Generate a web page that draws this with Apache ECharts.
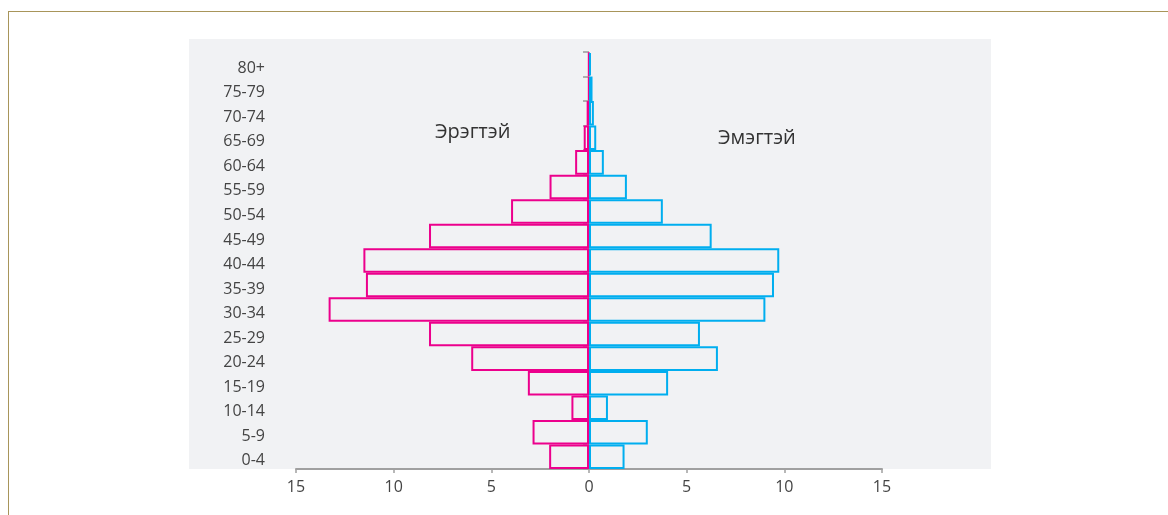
<!DOCTYPE html>
<html>
<head>
<meta charset="utf-8">
<script src="https://cdn.jsdelivr.net/npm/echarts@6/dist/echarts.min.js"></script>
<style>
html,body{margin:0;padding:0;background:#fff;}
#chart{width:1168px;height:515px;}
</style>
</head>
<body>
<div id="chart"></div>
<script>
const categories = ['0-4','5-9','10-14','15-19','20-24','25-29','30-34','35-39','40-44','45-49','50-54','55-59','60-64','65-69','70-74','75-79','80+'];
const maleValues = [2.04, 2.89, 0.9, 3.13, 6.03, 8.19, 13.33, 11.42, 11.55, 8.19, 3.99, 2.02, 0.71, 0.27, 0.12, 0.02, 0.02];
const femaleValues = [1.82, 3.01, 0.97, 4.05, 6.6, 5.68, 9.03, 9.47, 9.74, 6.28, 3.78, 1.94, 0.76, 0.37, 0.25, 0.18, 0.1];
const xTicks = { min: -15, max: 15, interval: 5 };
const maleLabel = 'Эрэгтэй';
const femaleLabel = 'Эмэгтэй';

const font = '"Open Sans", "Noto Sans", sans-serif';
const chart = echarts.init(document.getElementById('chart'));
chart.setOption({
  animation: false,
  backgroundColor: '#ffffff',
  graphic: [
    { type: 'rect', z: -10, silent: true, shape: { x: 189, y: 39, width: 802, height: 430 }, style: { fill: '#f1f2f4' } },
    { type: 'line', z: 10, silent: true, shape: { x1: 8, y1: 11.5, x2: 1168, y2: 11.5 }, style: { stroke: '#a8955a', lineWidth: 1 } },
    { type: 'line', z: 10, silent: true, shape: { x1: 8.5, y1: 11, x2: 8.5, y2: 515 }, style: { stroke: '#a8955a', lineWidth: 1 } },
    { type: 'text', z: 10, silent: true, left: 435, top: 122, style: { text: maleLabel, font: '20px ' + font, fill: '#333333' } },
    { type: 'text', z: 10, silent: true, left: 718, top: 128, style: { text: femaleLabel, font: '20px ' + font, fill: '#333333' } }
  ],
  grid: { left: 296, right: 286, top: 52, bottom: 46, containLabel: false, outerBoundsMode: 'none' },
  xAxis: {
    type: 'value',
    min: xTicks.min, max: xTicks.max, interval: xTicks.interval,
    axisLine: { show: true, onZero: false, lineStyle: { color: '#a0a0a0', width: 2 } },
    axisTick: { show: true, length: 4, lineStyle: { color: '#a0a0a0', width: 1.5 } },
    splitLine: { show: false },
    axisLabel: { margin: 10, color: '#444444', fontSize: 16, fontFamily: font, formatter: v => String(Math.abs(v)) }
  },
  yAxis: {
    type: 'category',
    data: categories,
    axisLine: { show: false, onZero: true },
    axisTick: { show: true, length: 6, lineStyle: { color: '#999999', width: 1.5 } },
    axisLabel: { margin: 31, color: '#444444', fontSize: 16, fontFamily: font, verticalAlign: 'top', lineHeight: 8 },
    splitLine: { show: false }
  },
  series: [
    {
      name: maleLabel, type: 'bar', stack: 'p', barCategoryGap: 0,
      data: maleValues.map(v => -v),
      itemStyle: { color: 'rgba(0,0,0,0)', borderColor: '#ec008c', borderWidth: 2 }
    },
    {
      name: femaleLabel, type: 'bar', stack: 'p', barCategoryGap: 0,
      data: femaleValues,
      itemStyle: { color: 'rgba(0,0,0,0)', borderColor: '#00aeef', borderWidth: 2 }
    }
  ]
});
</script>
</body>
</html>
